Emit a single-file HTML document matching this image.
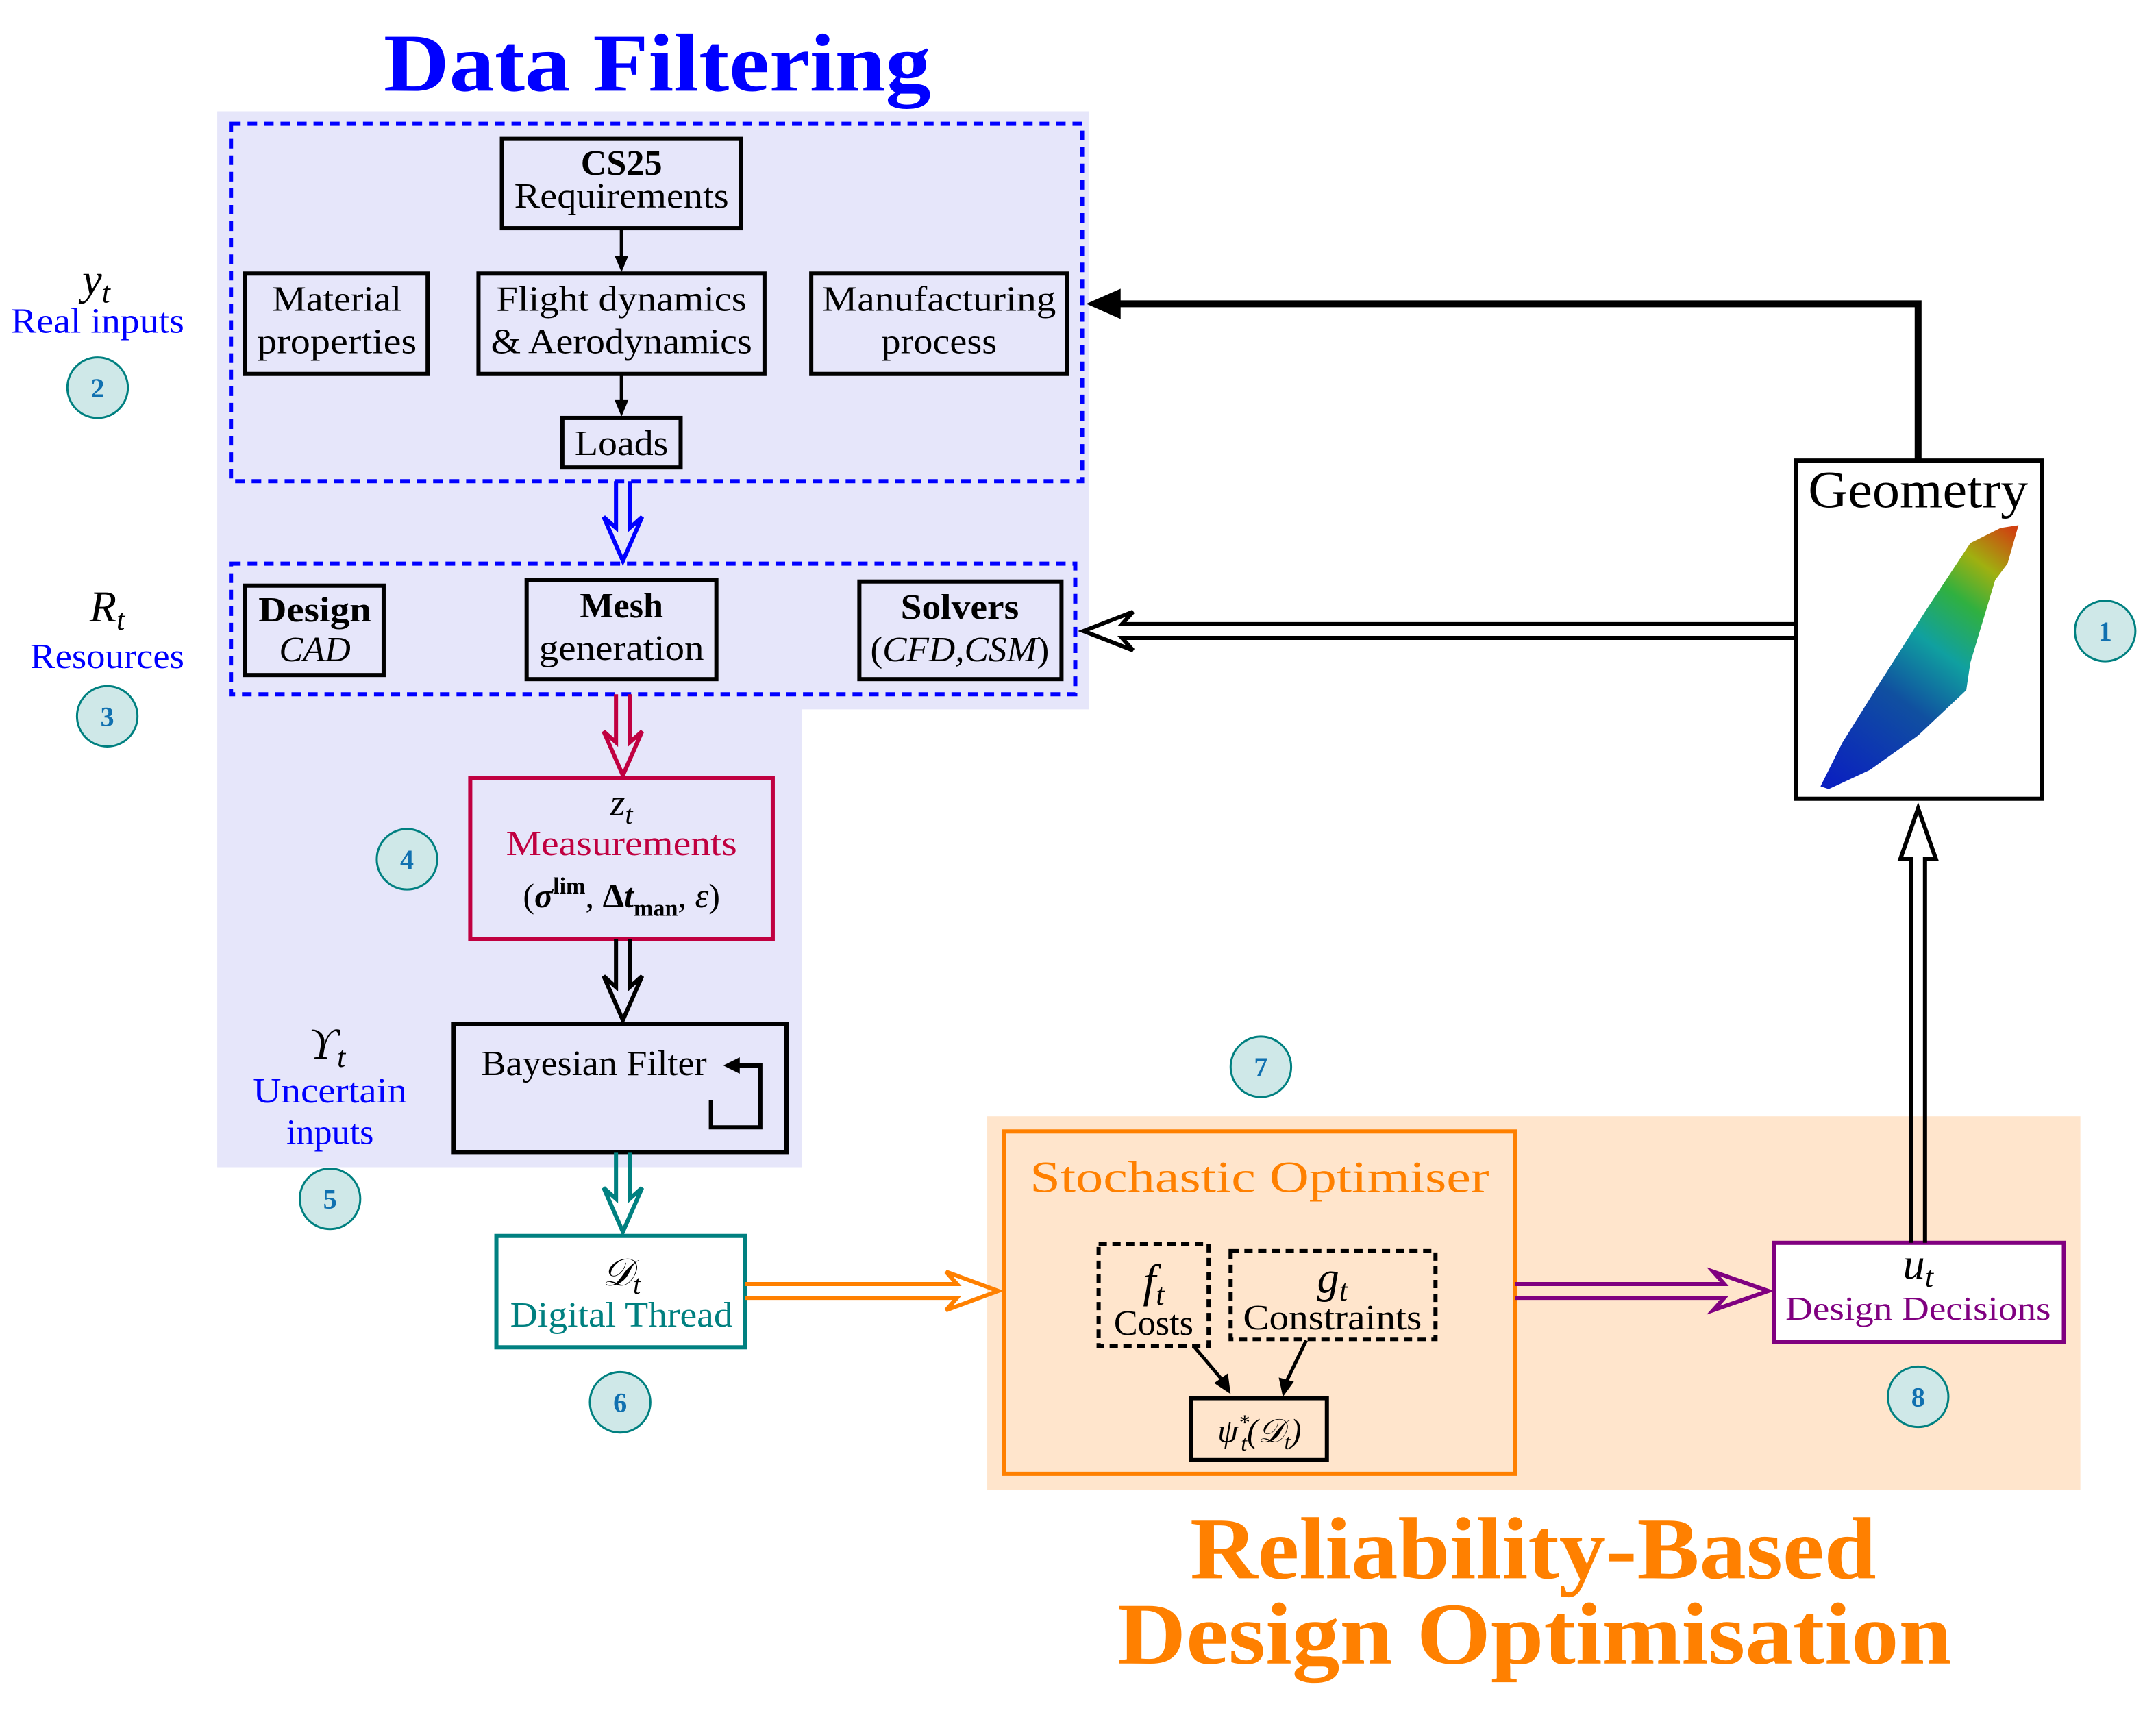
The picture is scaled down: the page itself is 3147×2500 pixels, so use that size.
<!DOCTYPE html>
<html><head><meta charset="utf-8"><style>html,body{margin:0;padding:0;background:#fff}svg{display:block}</style></head>
<body>
<svg width="3147" height="2500" viewBox="0 0 1568 1246" preserveAspectRatio="none" xmlns="http://www.w3.org/2000/svg" font-family="Liberation Serif, serif">
<defs>
<linearGradient id="wg" x1="1330" y1="570" x2="1465" y2="385" gradientUnits="userSpaceOnUse">
<stop offset="0" stop-color="#0a20c0"/><stop offset="0.35" stop-color="#1050a0"/><stop offset="0.55" stop-color="#10a0a0"/><stop offset="0.72" stop-color="#30b040"/><stop offset="0.85" stop-color="#a0b010"/><stop offset="1" stop-color="#d04010"/></linearGradient>
</defs>
<polygon points="158,81 792,81 792,516 583,516 583,849 158,849" fill="#e6e6fa"/>
<rect x="718" y="812" width="795" height="272" fill="#ffe5cc"/>
<text x="478" y="66" font-size="60" font-weight="bold" fill="#0000ff" text-anchor="middle" textLength="398" lengthAdjust="spacingAndGlyphs">Data Filtering</text>
<text x="1115" y="1148" font-size="64" font-weight="bold" fill="#ff8000" text-anchor="middle" textLength="499" lengthAdjust="spacingAndGlyphs">Reliability-Based</text>
<text x="1116" y="1210" font-size="64" font-weight="bold" fill="#ff8000" text-anchor="middle" textLength="607" lengthAdjust="spacingAndGlyphs">Design Optimisation</text>
<rect x="168" y="90" width="619" height="260" fill="none" stroke="#0000ff" stroke-width="3" stroke-dasharray="7,5"/>
<rect x="168" y="410" width="614" height="95" fill="none" stroke="#0000ff" stroke-width="3" stroke-dasharray="7,5"/>
<g fill="none" stroke="#000" stroke-width="3">
<rect x="365" y="101" width="174" height="65"/>
<rect x="178" y="199" width="133" height="73"/>
<rect x="348" y="199" width="208" height="73"/>
<rect x="590" y="199" width="186" height="73"/>
<rect x="409" y="304" width="86" height="36"/>
<rect x="178" y="426" width="101" height="65"/>
<rect x="383" y="422" width="138" height="72"/>
<rect x="625" y="423" width="147" height="71"/>
<rect x="330" y="745" width="242" height="93"/>
<rect x="866" y="1017" width="99" height="45"/>
<rect x="1306" y="335" width="179" height="246" fill="#fff"/>
</g>
<rect x="342" y="566" width="220" height="117" fill="none" stroke="#c00040" stroke-width="3"/>
<rect x="361" y="899" width="181" height="81" fill="#fff" stroke="#008080" stroke-width="3"/>
<rect x="730" y="823" width="372" height="249" fill="none" stroke="#ff8000" stroke-width="3"/>
<rect x="1290" y="904" width="211" height="72" fill="#fff" stroke="#800080" stroke-width="3"/>
<g fill="none" stroke="#000" stroke-width="3" stroke-dasharray="6,4">
<rect x="799" y="905" width="80" height="74"/>
<rect x="895" y="910" width="149" height="64"/>
</g>
<g font-size="26" text-anchor="middle" fill="#000">
<text x="452" y="127" font-weight="bold">CS25</text>
<text x="452" y="151" textLength="156" lengthAdjust="spacingAndGlyphs">Requirements</text>
<text x="245" y="226" textLength="94" lengthAdjust="spacingAndGlyphs">Material</text>
<text x="245" y="257" textLength="116" lengthAdjust="spacingAndGlyphs">properties</text>
<text x="452" y="226" textLength="182" lengthAdjust="spacingAndGlyphs">Flight dynamics</text>
<text x="452" y="257" textLength="190" lengthAdjust="spacingAndGlyphs">&amp; Aerodynamics</text>
<text x="683" y="226" textLength="170" lengthAdjust="spacingAndGlyphs">Manufacturing</text>
<text x="683" y="257" textLength="84" lengthAdjust="spacingAndGlyphs">process</text>
<text x="452" y="331" textLength="68" lengthAdjust="spacingAndGlyphs">Loads</text>
<text x="229" y="452" font-weight="bold" textLength="82" lengthAdjust="spacingAndGlyphs">Design</text>
<text x="229" y="481" font-style="italic">CAD</text>
<text x="452" y="449" font-weight="bold">Mesh</text>
<text x="452" y="480" textLength="120" lengthAdjust="spacingAndGlyphs">generation</text>
<text x="698" y="450" font-weight="bold" textLength="86" lengthAdjust="spacingAndGlyphs">Solvers</text>
<text x="698" y="481" textLength="130" lengthAdjust="spacingAndGlyphs">(<tspan font-style="italic">CFD,CSM</tspan>)</text>
<text x="452" y="593" font-style="italic" font-size="28">z<tspan font-size="20" dy="6">t</tspan></text>
<text x="452" y="622" fill="#c00040" textLength="168" lengthAdjust="spacingAndGlyphs">Measurements</text>
<text x="452" y="660" font-size="25">(<tspan font-style="italic" font-weight="bold">σ</tspan><tspan font-size="17" dy="-10" font-weight="bold">lim</tspan><tspan dy="10">, </tspan><tspan font-weight="bold">Δ<tspan font-style="italic">t</tspan></tspan><tspan font-size="17" dy="6" font-weight="bold">man</tspan><tspan dy="-6">, </tspan><tspan font-style="italic">ε</tspan>)</text>
<text x="432" y="782" textLength="164" lengthAdjust="spacingAndGlyphs">Bayesian Filter</text>
<text x="452" y="935" font-style="italic" font-size="28">𝒟<tspan font-size="20" dy="6">t</tspan></text>
<text x="452" y="965" fill="#008080" textLength="162" lengthAdjust="spacingAndGlyphs">Digital Thread</text>
<text x="916" y="867" fill="#ff8000" font-size="32" textLength="334" lengthAdjust="spacingAndGlyphs">Stochastic Optimiser</text>
<text x="839" y="943" font-style="italic" font-size="34">f<tspan font-size="22" dy="6">t</tspan></text>
<text x="839" y="971">Costs</text>
<text x="969" y="940" font-style="italic" font-size="32">g<tspan font-size="22" dy="6">t</tspan></text>
<text x="969" y="967" textLength="130" lengthAdjust="spacingAndGlyphs">Constraints</text>
<text x="916" y="1049" font-style="italic" font-size="24">ψ<tspan font-size="16" dy="-9">*</tspan><tspan font-size="16" dy="15" dx="-6">t</tspan><tspan dy="-6">(𝒟</tspan><tspan font-size="16" dy="5">t</tspan><tspan dy="-5">)</tspan></text>
<text x="1395" y="930" font-style="italic" font-size="32">u<tspan font-size="22" dy="6">t</tspan></text>
<text x="1395" y="960" fill="#800080" font-size="24" textLength="193" lengthAdjust="spacingAndGlyphs">Design Decisions</text>
<text x="1395" y="369" font-size="38" textLength="160" lengthAdjust="spacingAndGlyphs">Geometry</text>
<text x="70" y="214" font-style="italic" font-size="32">y<tspan font-size="22" dy="6">t</tspan></text>
<text x="71" y="242" fill="#0000ff" textLength="126" lengthAdjust="spacingAndGlyphs">Real inputs</text>
<text x="78" y="452" font-style="italic" font-size="32">R<tspan font-size="22" dy="6">t</tspan></text>
<text x="78" y="486" fill="#0000ff" textLength="112" lengthAdjust="spacingAndGlyphs">Resources</text>
<text x="238" y="770" font-style="italic" font-size="32">ϒ<tspan font-size="22" dy="6">t</tspan></text>
<text x="240" y="802" fill="#0000ff" textLength="112" lengthAdjust="spacingAndGlyphs">Uncertain</text>
<text x="240" y="832" fill="#0000ff">inputs</text>
</g>
<polygon points="1468,382 1455,384 1433,395 1400,445 1365,500 1340,540 1324,572 1330,574 1360,560 1395,535 1430,502 1433,482 1451,422 1460,410" fill="url(#wg)"/>
<polyline points="517,800 517,820 553,820 553,775 532,775" fill="none" stroke="#000" stroke-width="3"/>
<polygon points="526,775 538,769 538,781" fill="#000"/>
<g stroke="#000" stroke-width="2.5" fill="#000">
<line x1="452" y1="166" x2="452" y2="188"/><polygon points="447,186 457,186 452,198" stroke="none"/>
<line x1="452" y1="272" x2="452" y2="293"/><polygon points="447,291 457,291 452,303" stroke="none"/>
<line x1="868" y1="979" x2="890" y2="1005"/><polygon points="883,1006 895,1014 893,999" stroke="none"/>
<line x1="950" y1="975" x2="936" y2="1004"/><polygon points="930,1002 933,1016 941,1005" stroke="none"/>
</g>
<polyline points="1395,335 1395,221 808,221" fill="none" stroke="#000" stroke-width="5"/>
<polygon points="790,221 815,210 815,232" fill="#000"/>
<g fill="none" stroke-width="3">
<polyline stroke="#0000ff" points="448,350 448,384 439,376 453,408 467,376 458,384 458,350"/>
<polyline stroke="#c00040" points="448,505 448,540 439,532 453,564 467,532 458,540 458,505"/>
<polyline stroke="#000" points="448,683 448,718 439,710 453,742 467,710 458,718 458,683"/>
<polyline stroke="#008080" points="448,838 448,872 439,864 453,896 467,864 458,872 458,838"/>
<polyline stroke="#000" points="1306,454 816,454 824,445 788,459 824,473 816,464 1306,464"/>
<polyline stroke="#000" points="1390,904 1390,625 1382,625 1395,588 1408,625 1400,625 1400,904"/>
<polyline stroke="#ff8000" points="542,934 696,934 688,925 726,939 688,953 696,944 542,944"/>
<polyline stroke="#800080" points="1102,934 1254,934 1246,925 1286,939 1246,953 1254,944 1102,944"/>
</g>
<g fill="#cfe8e8" stroke="#008080" stroke-width="1.5">
<circle cx="1531" cy="459" r="22"/><circle cx="71" cy="282" r="22"/><circle cx="78" cy="521" r="22"/><circle cx="296" cy="625" r="22"/><circle cx="240" cy="872" r="22"/><circle cx="451" cy="1020" r="22"/><circle cx="917" cy="776" r="22"/><circle cx="1395" cy="1016" r="22"/>
</g>
<g font-size="20" font-weight="bold" fill="#1070b0" text-anchor="middle">
<text x="1531" y="466">1</text><text x="71" y="289">2</text><text x="78" y="528">3</text><text x="296" y="632">4</text><text x="240" y="879">5</text><text x="451" y="1027">6</text><text x="917" y="783">7</text><text x="1395" y="1023">8</text>
</g>
</svg>
</body></html>
